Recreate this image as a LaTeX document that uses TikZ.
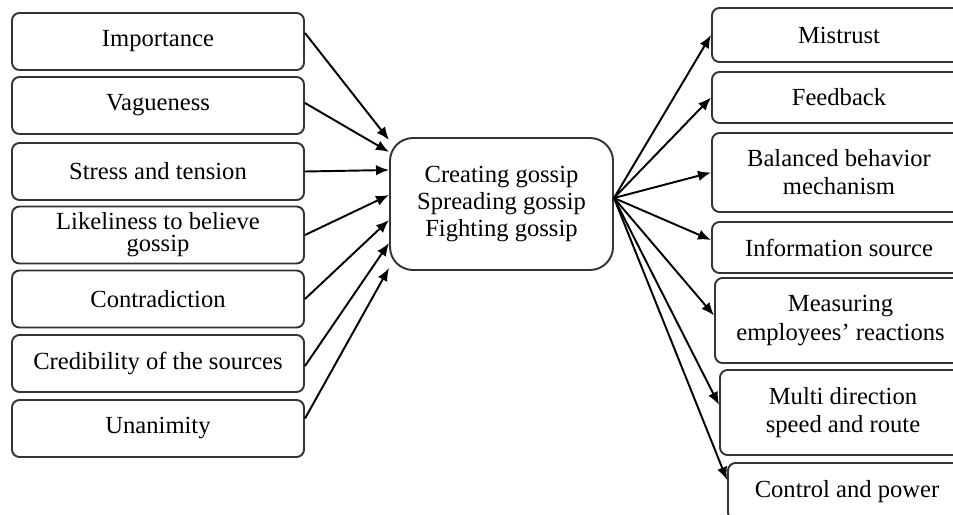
\documentclass[tikz,border=0pt]{standalone}
\usepackage{fontspec}
\setmainfont{Liberation Serif}
\usetikzlibrary{arrows.meta}
\begin{document}
\begin{tikzpicture}[
  box/.style={draw=black!80, line width=1.1pt, rounded corners=0.15cm, align=center,
    inner sep=0pt, font=\fontsize{14}{16}\selectfont},
  lbox/.style={box, minimum width=5.84cm, minimum height=1.14cm},
  mainbox/.style={box, rounded corners=0.46cm, minimum width=4.46cm, minimum height=2.64cm,
    font=\fontsize{14}{15.5}\selectfont},
  arr/.style={-{Latex[length=2.6mm,width=2.1mm]}, line width=1.1pt}
]
\useasboundingbox (0,0) rectangle (19.06,-10.28);
\clip (0,0) rectangle (19.06,-10.28);
% causes
\node[lbox] (imp) at (3.16,-0.83) {Importance};
\node[lbox] (vag) at (3.16,-2.11) {Vagueness};
\node[lbox] (str) at (3.16,-3.43) {Stress and tension};
\node[lbox, font=\fontsize{14}{12.5}\selectfont] (lik) at (3.16,-4.70) {Likeliness to believe\\gossip};
\node[lbox] (con) at (3.16,-5.98) {Contradiction};
\node[lbox] (cre) at (3.16,-7.27) {Credibility of the sources};
\node[lbox] (una) at (3.16,-8.57) {Unanimity};
% centre
\node[mainbox] (ctr) at (10.03,-4.08) {Creating gossip\\Spreading gossip\\Fighting gossip};
% effects
\node[box, minimum width=5.08cm, minimum height=1.08cm] (mis) at (16.78,-0.70) {Mistrust};
\node[box, minimum width=5.08cm, minimum height=1.02cm] (fee) at (16.78,-1.95) {Feedback};
\node[box, minimum width=5.08cm, minimum height=1.58cm] (bal) at (16.78,-3.45) {Balanced behavior\\mechanism};
\node[box, minimum width=5.08cm, minimum height=1.02cm] (inf) at (16.78,-4.95) {Information source};
\node[box, minimum width=5.02cm, minimum height=1.70cm] (mea) at (16.81,-6.41) {Measuring\\employees’ reactions};
\node[box, minimum width=4.92cm, minimum height=1.70cm] (mul) at (16.86,-8.25) {Multi direction\\speed and route};
\node[box, minimum width=4.76cm, minimum height=1.14cm] (ctl) at (16.94,-9.83) {Control and power};
% arrows in
\foreach \a/\s/\t in {imp/0.17/1.28, vag/0.05/1.04, str/0/0.68, lik/0/0.18,
    con/0/-0.32, cre/-0.05/-0.78, una/0.2/-1.28}
  \draw[arr] ([yshift=\s cm]\a.east) -- ([yshift=\t cm]ctr.west);
% arrows out
\coordinate (src) at ([yshift=0.12cm]ctr.east);
\foreach \b/\t in {mis/0, fee/0, bal/0, inf/0.15, mea/0.1, mul/0.15, ctl/0.23}
  \draw[arr] (src) -- ([yshift=\t cm]\b.west);
\end{tikzpicture}
\end{document}
